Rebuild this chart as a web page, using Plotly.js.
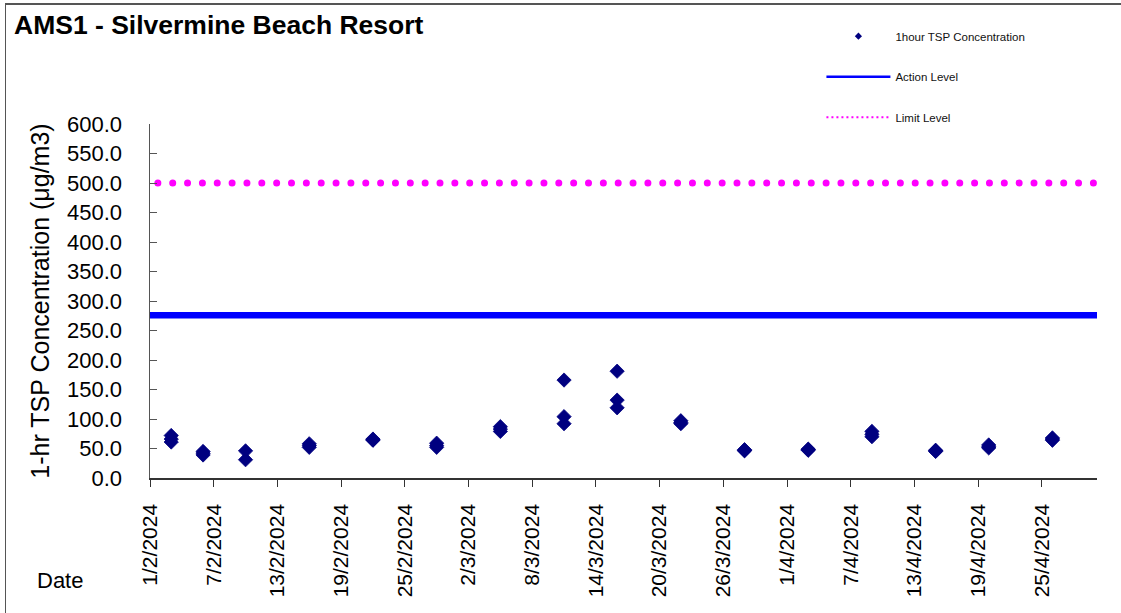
<!DOCTYPE html>
<html>
<head>
<meta charset="utf-8">
<script src="https://cdn.plot.ly/plotly-3.0.1.min.js"></script>
<style>
  html, body { margin: 0; padding: 0; background: #fff; }
  #wrap { position: relative; width: 1121px; height: 613px; overflow: hidden; }
  #chart { width: 1121px; height: 613px; }
  #frame { position: absolute; left: 5px; top: 3px; width: 1200px; height: 700px;
           border-left: 1px solid #555; border-top: 2px solid #555; pointer-events: none; }
  .scatterlayer .trace:nth-child(3) .js-line { stroke-linecap: round; stroke-dashoffset: 7px; }
</style>
</head>
<body>
<div id="wrap">
  <div id="chart"></div>
  <div id="frame"></div>
</div>
<script>
// ---- data ----
const sampleDates = [
  "2024-02-03","2024-02-03","2024-02-03",
  "2024-02-06","2024-02-06","2024-02-06",
  "2024-02-10","2024-02-10",
  "2024-02-16","2024-02-16","2024-02-16",
  "2024-02-22","2024-02-22","2024-02-22",
  "2024-02-28","2024-02-28","2024-02-28",
  "2024-03-05","2024-03-05","2024-03-05",
  "2024-03-11","2024-03-11","2024-03-11",
  "2024-03-16","2024-03-16","2024-03-16",
  "2024-03-22","2024-03-22","2024-03-22",
  "2024-03-28","2024-03-28","2024-03-28",
  "2024-04-03","2024-04-03","2024-04-03",
  "2024-04-09","2024-04-09","2024-04-09",
  "2024-04-15","2024-04-15","2024-04-15",
  "2024-04-20","2024-04-20","2024-04-20",
  "2024-04-26","2024-04-26","2024-04-26"
];
const tspValues = [
  72, 66, 61,
  45, 42, 39,
  46, 31,
  58, 55, 52,
  66, 65, 64,
  59, 55, 52,
  87, 83, 79,
  166, 104, 92,
  181, 132, 119,
  97, 94, 92,
  48, 47, 46,
  49, 48, 47,
  79, 74, 70,
  47, 46, 45,
  56, 53, 51,
  68, 66, 64
];
const actionLevel = 276;
const limitLevel = 500;
const xRange = ["2024-02-01", "2024-04-30 04:48"];
const seriesNames = ["1hour TSP Concentration", "Action Level", "Limit Level"];
const chartTitle = "AMS1 - Silvermine Beach Resort";
const yTitle = "1-hr TSP Concentration (μg/m3)";
const xTitle = "Date";

const FONT = "Liberation Sans, Arial, sans-serif";

const traces = [
  { type: "scatter", mode: "markers", x: sampleDates, y: tspValues, name: seriesNames[0],
    showlegend: false, cliponaxis: false,
    marker: { symbol: "diamond", size: 11, color: "#000080", line: { width: 0.8, color: "#000080" } } },
  { type: "scatter", mode: "lines", x: xRange, y: [actionLevel, actionLevel], name: seriesNames[1],
    showlegend: false, line: { color: "#0000ff", width: 6.5 } },
  { type: "scatter", mode: "lines", x: xRange, y: [limitLevel, limitLevel], name: seriesNames[2],
    showlegend: false, line: { color: "#ff00ff", width: 7, dash: "0px,14.85px" } },
  // legend entries
  { type: "scatter", mode: "markers", x: [null], y: [null], name: seriesNames[0], legendgroup: "a",
    marker: { symbol: "diamond", size: 5.5, color: "#000080" } },
  { type: "scatter", mode: "lines", x: [null], y: [null], name: seriesNames[1], legendgroup: "b",
    line: { color: "#0000ff", width: 2.5 } },
  { type: "scatter", mode: "lines", x: [null], y: [null], name: seriesNames[2], legendgroup: "c",
    line: { color: "#ff00ff", width: 2, dash: "2px,3px" } }
];

const layout = {
  width: 1121, height: 613,
  margin: { l: 150, r: 24, t: 124, b: 135 },
  paper_bgcolor: "#ffffff", plot_bgcolor: "#ffffff",
  font: { family: FONT, color: "#000" },
  title: { text: "<b>" + chartTitle + "</b>", xref: "container", yref: "container",
           x: 0.0125, xanchor: "left", y: 0.96, yanchor: "middle",
           font: { family: FONT, size: 26.5, color: "#000" } },
  xaxis: {
    type: "date", range: xRange, tick0: "2024-02-01", dtick: 6 * 86400000,
    tickformat: "%-d/%-m/%Y", tickangle: -90,
    tickfont: { family: FONT, size: 21, color: "#000" },
    ticks: "outside", ticklen: 7, tickcolor: "#333", tickwidth: 1,
    ticklabelstandoff: 9,
    showline: true, linecolor: "#333", linewidth: 1.5,
    showgrid: false, zeroline: false, fixedrange: true
  },
  yaxis: {
    range: [0, 600], dtick: 50, tickformat: ".1f",
    tickfont: { family: FONT, size: 22, color: "#000" },
    ticks: "inside", ticklen: 7, tickcolor: "#555", tickwidth: 1,
    ticklabelstandoff: 22,
    showline: true, linecolor: "#555", linewidth: 1.5,
    showgrid: false, zeroline: false, fixedrange: true,
    title: { text: yTitle, font: { family: FONT, size: 25, color: "#000" }, standoff: 10 }
  },
  legend: {
    x: 0.709, y: 1.289, xanchor: "left", yanchor: "top",
    bgcolor: "rgba(0,0,0,0)", borderwidth: 0,
    font: { family: FONT, size: 11.5, color: "#111" },
    traceorder: "grouped", tracegroupgap: 21.5, itemwidth: 64
  },
  annotations: [
    { text: xTitle, xref: "paper", yref: "paper", x: -0.095, y: -0.29, xanchor: "center", yanchor: "middle",
      showarrow: false, font: { family: FONT, size: 22, color: "#000" } }
  ],
  showlegend: true
};

Plotly.newPlot("chart", traces, layout, { displayModeBar: false, staticPlot: true });
</script>
</body>
</html>
